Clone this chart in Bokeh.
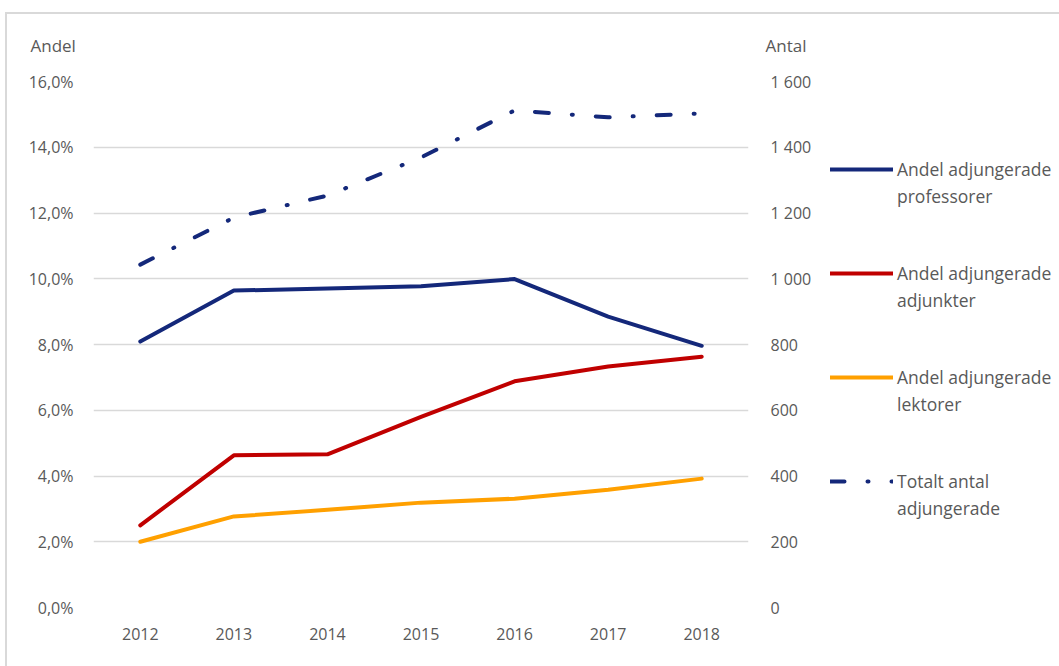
from bokeh.plotting import figure
from bokeh.layouts import row
from bokeh.models import (Range1d, LinearAxis, FixedTicker, CustomJSTickFormatter,
                          Legend, LegendItem, Label, ColumnDataSource)
from bokeh.embed import file_html
from bokeh.resources import INLINE

years = ["2012", "2013", "2014", "2015", "2016", "2017", "2018"]
professorer = [8.09, 9.64, 9.70, 9.77, 9.99, 8.85, 7.96]
adjunkter = [2.50, 4.63, 4.66, 5.80, 6.88, 7.33, 7.63]
lektorer = [2.00, 2.77, 2.97, 3.19, 3.31, 3.58, 3.92]
totalt = [1043, 1186, 1253, 1369, 1512, 1491, 1503]

names_line1 = ["Andel adjungerade", "Andel adjungerade", "Andel adjungerade", "Totalt antal"]
names_line2 = ["professorer", "adjunkter", "lektorer", "adjungerade"]

NAVY = "#14287a"
RED = "#c00000"
ORANGE = "#ffa000"
GRID = "#d9d9d9"
TXT = "#595959"
FONT = "Open Sans"
DASH = "14 23 1 23"

src = ColumnDataSource(dict(x=years, prof=professorer, adj=adjunkter, lek=lektorer, tot=totalt))

p = figure(frame_width=655, frame_height=526, x_range=years, y_range=Range1d(0, 16),
           output_backend="svg", toolbar_location=None,
           min_border_left=86, min_border_right=70, min_border_top=67, min_border_bottom=59)
p.extra_y_ranges = {"antal": Range1d(0, 1600)}
p.outline_line_color = None

p.xgrid.grid_line_color = None
p.ygrid.grid_line_color = GRID
p.ygrid.grid_line_width = 1.5
p.ygrid.ticker = FixedTicker(ticks=[0, 2, 4, 6, 8, 10, 12, 14, 16])

rax = LinearAxis(y_range_name="antal", ticker=FixedTicker(ticks=[0, 200, 400, 600, 800, 1000, 1200, 1400, 1600]),
                 formatter=CustomJSTickFormatter(code="return tick.toFixed(0).replace(/\\B(?=(\\d{3})+(?!\\d))/g, ' ');"))
p.add_layout(rax, "right")

for ax in [p.yaxis[0], p.xaxis[0], rax]:
    ax.axis_line_color = None
    ax.major_tick_line_color = None
    ax.minor_tick_line_color = None
    ax.major_tick_out = 0
    ax.major_tick_in = 0
    ax.major_label_text_color = TXT
    ax.major_label_text_font = FONT
    ax.major_label_text_font_size = "16px"

p.yaxis[0].ticker = FixedTicker(ticks=[0, 2, 4, 6, 8, 10, 12, 14, 16])
p.yaxis[0].formatter = CustomJSTickFormatter(code="return tick.toFixed(1).replace('.', ',') + '%';")
p.yaxis[0].major_label_standoff = 20
rax.major_label_standoff = 22
p.xaxis[0].major_label_standoff = 20

p.line("x", "prof", source=src, color=NAVY, line_width=4, line_join="round", line_cap="round")
p.line("x", "adj", source=src, color=RED, line_width=4, line_join="round", line_cap="round")
p.line("x", "lek", source=src, color=ORANGE, line_width=4, line_join="round", line_cap="round")
p.line("x", "tot", source=src, color=NAVY, line_width=4, line_dash=DASH,
       line_cap="round", line_join="round", y_range_name="antal")

p.add_layout(Label(x=-63, y=25, x_units="screen", y_units="screen", text="Andel",
                   text_font=FONT, text_font_size="17px", text_color=TXT), "above")
p.add_layout(Label(x=672, y=2, x_units="screen", y_units="screen", text="Antal",
                   text_font=FONT, text_font_size="17px", text_color=TXT), "above")

# legend panel beside the chart (same series styles)
lf = figure(width=241, height=652, x_range=Range1d(0, 1), y_range=Range1d(0, 1),
            output_backend="svg", toolbar_location=None,
            min_border_left=12, min_border_top=67, min_border_right=0, min_border_bottom=59,
            x_axis_location=None, y_axis_location=None)
lf.outline_line_color = None
lf.grid.grid_line_color = None
g1 = lf.line(x=[0], y=[0], color=NAVY, line_width=4, line_cap="round")
g2 = lf.line(x=[0], y=[0], color=RED, line_width=4, line_cap="round")
g3 = lf.line(x=[0], y=[0], color=ORANGE, line_width=4, line_cap="round")
g4 = lf.line(x=[0], y=[0], color=NAVY, line_width=4, line_dash=DASH, line_cap="round")
blank = lf.line(x=[0], y=[0], line_alpha=0)

items = []
for i, r in enumerate([g1, g2, g3, g4]):
    items.append(LegendItem(label=names_line1[i], renderers=[r]))
    items.append(LegendItem(label=names_line2[i], renderers=[blank]))
    if i < 3:
        items.append(LegendItem(label=" ", renderers=[blank]))
        items.append(LegendItem(label=" ", renderers=[blank]))

legend = Legend(items=items, location=(0, 87), orientation="vertical")
legend.label_text_font = FONT
legend.label_text_font_size = "17.5px"
legend.label_text_color = TXT
legend.glyph_width = 63
legend.glyph_height = 22
legend.label_standoff = 4
legend.spacing = 3
legend.padding = 0
legend.margin = 0
legend.border_line_color = None
legend.background_fill_alpha = 0
legend.inactive_fill_alpha = 0
lf.add_layout(legend, "center")

layout = row(p, lf)
layout.margin = (12, 0, 0, 5)
layout.styles = {"border-top": "2px solid #d9d9d9", "border-left": "2px solid #d9d9d9"}

open("out.html", "w").write(file_html(layout, INLINE))
